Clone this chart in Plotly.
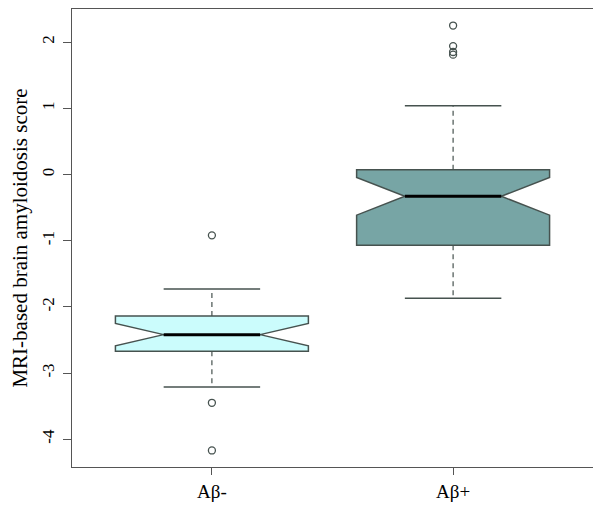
import plotly.graph_objects as go

# Group labels and box statistics
groups = ['Aβ-', 'Aβ+']
positions = [1, 2]
q1 = [-2.67, -1.07]
median = [-2.42, -0.33]
q3 = [-2.14, 0.07]
lower_whisker = [-3.21, -1.87]
upper_whisker = [-1.73, 1.04]
notch = [0.17, 0.285]
outliers = [[-0.92, -3.45, -4.17], [2.25, 1.94, 1.85, 1.81]]

fills = ['#cbfcfc', '#77a5a5']
edge = '#46524f'
box_width = 0.8
cap_half = 0.2

fig = go.Figure()

for i, g in enumerate(groups):
    p = positions[i]
    # notched box without whiskers (whiskers drawn dashed below)
    fig.add_trace(go.Box(
        x=[p], q1=[q1[i]], median=[median[i]], q3=[q3[i]],
        lowerfence=[q1[i]], upperfence=[q3[i]],
        notched=True, notchspan=[notch[i]], notchwidth=0.25,
        width=box_width, whiskerwidth=0,
        fillcolor=fills[i], line=dict(color=edge, width=1.5),
        boxpoints=False, hoverinfo='skip', showlegend=False))

    # dashed whisker lines
    fig.add_trace(go.Scatter(
        x=[p, p, None, p, p],
        y=[q3[i], upper_whisker[i], None, q1[i], lower_whisker[i]],
        mode='lines', line=dict(color=edge, width=1.2, dash='5px,4px'),
        hoverinfo='skip', showlegend=False))

    # whisker caps
    fig.add_trace(go.Scatter(
        x=[p - cap_half, p + cap_half, None, p - cap_half, p + cap_half],
        y=[upper_whisker[i], upper_whisker[i], None, lower_whisker[i], lower_whisker[i]],
        mode='lines', line=dict(color=edge, width=1.5),
        hoverinfo='skip', showlegend=False))

    # thick median line
    fig.add_trace(go.Scatter(
        x=[p - box_width / 4, p + box_width / 4],
        y=[median[i], median[i]],
        mode='lines', line=dict(color='black', width=3),
        hoverinfo='skip', showlegend=False))

    # outliers
    fig.add_trace(go.Scatter(
        x=[p] * len(outliers[i]), y=outliers[i], mode='markers',
        marker=dict(symbol='circle-open', size=7, color=edge, line=dict(width=1.3)),
        hoverinfo='skip', showlegend=False))

# page body has an 8px margin, so the figure is placed 8px right/down
fig.update_layout(
    width=601, height=506,
    margin=dict(l=64, r=16, t=1, b=47),
    plot_bgcolor='white', paper_bgcolor='white',
    font=dict(family='Liberation Serif', color='black'),
)
fig.update_xaxes(
    range=[0.42, 2.58], tickvals=positions, ticktext=groups,
    showgrid=False, zeroline=False, showline=True, mirror=True,
    linecolor='#555555', linewidth=1.2,
    ticks='outside', ticklen=7, tickcolor='#555555',
    tickfont=dict(size=19))
fig.update_yaxes(
    range=[-4.42, 2.5], tickvals=[-4, -3, -2, -1, 0, 1, 2],
    ticktext=['-4', '-3', '-2', '-1', '0', '1', '2'],
    showgrid=False, zeroline=False, showline=True, mirror=True,
    linecolor='#555555', linewidth=1.2,
    ticks='outside', ticklen=8, tickcolor='#555555', tickangle=-90,
    ticklabelstandoff=2,
    tickfont=dict(size=17),
    title=dict(text='MRI-based brain amyloidosis score', font=dict(size=21), standoff=14))

fig.write_html("out.html")
